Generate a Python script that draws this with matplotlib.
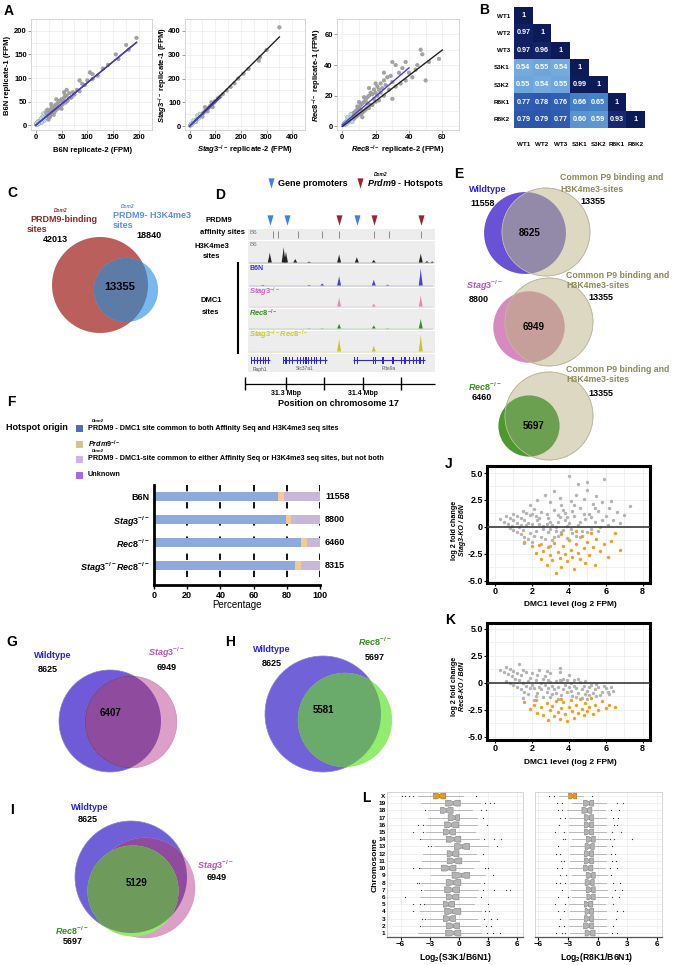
import numpy as np
import matplotlib.pyplot as plt
from matplotlib.patches import Circle, Rectangle
from matplotlib.colors import LinearSegmentedColormap

plt.rcParams['font.family'] = ['Liberation Sans', 'DejaVu Sans']
plt.rcParams['font.weight'] = 'bold'
plt.rcParams['mathtext.fontset'] = 'custom'
plt.rcParams['mathtext.rm'] = 'Liberation Sans:bold'
plt.rcParams['mathtext.it'] = 'Liberation Sans:italic:bold'
plt.rcParams['mathtext.bf'] = 'Liberation Sans:bold'

# ---------------- data ----------------
# A: replicate scatter, (replicate-2, replicate-1) in FPM
b6n_pts = [(1,2),(2,1),(3,4),(4,3),(5,6),(6,4),(7,8),(8,6),(9,10),(10,7),(11,12),(12,9),(14,15),(15,11),
           (16,18),(18,14),(19,21),(20,16),(22,24),(24,19),(25,28),(27,22),(28,32),(30,25),(32,34),(33,28),
           (35,38),(37,30),(38,43),(40,33),(42,46),(44,36),(45,50),(48,40),(50,55),(52,44),(55,58),(58,48),
           (60,62),(62,52),(65,68),(68,58),(72,70),(75,65),(80,75),(85,72),(90,88),(95,85),(100,95),(105,112),
           (110,98),(120,105),(130,120),(140,128),(155,150),(160,140),(175,170),(180,160),(195,185),(15,25),
           (20,30),(30,45),(40,55),(55,70),(25,12),(35,22),(50,35),(60,75),(3,1),(1,4),(6,9),(9,5),(13,18),
           (17,10),(23,33),(28,18),(45,38),(70,60),(85,95),(110,108),(4,7),(7,4),(10,14),(12,6),(21,26),
           (26,20),(31,38),(36,28),(41,40),(47,52),(53,50),(57,64)]
stag3_pts = [(2,2),(4,5),(6,6),(8,9),(10,11),(12,12),(15,16),(18,19),(20,22),(24,25),(28,30),(32,33),(35,38),
             (40,42),(45,47),(50,53),(55,57),(60,64),(65,68),(70,74),(75,78),(80,85),(88,92),(95,100),(100,106),
             (110,118),(120,125),(130,135),(145,150),(160,165),(175,180),(190,200),(210,220),(230,240),(270,275),
             (275,290),(300,320),(350,415),(30,45),(60,80),(90,80),(5,10),(15,25),(25,18),(40,52),(50,40),
             (70,62),(85,100),(3,3),(9,7),(14,13),(22,20),(36,33)]
rec8_pts = [(0.5,1),(1,2),(1.5,1),(2,3),(2,1.5),(3,4),(3,2),(4,5),(4,3),(5,6),(5,3.5),(6,8),(6,5),(7,9),(7,5),
            (8,10),(8,6),(9,11),(9,7),(10,12),(10,8),(11,14),(11,8),(12,15),(12,9),(13,16),(13,10),(14,17),
            (14,11),(15,19),(15,12),(16,20),(16,12),(17,22),(18,21),(18,14),(19,24),(20,22),(20,16),(21,26),
            (22,24),(22,17),(23,28),(24,25),(25,30),(25,20),(26,27),(27,32),(28,24),(29,33),(30,29),(30,42),
            (32,40),(32,26),(34,35),(35,28),(36,38),(38,30),(38,42),(40,35),(42,32),(44,37),(45,40),(47,50),
            (48,47),(50,30),(52,42),(58,44),(30,18),(20,28),(10,16),(25,35),(3,6),(6,3),(12,6),(16,25),
            (1,1),(2,2.5),(4,4),(5,8),(7,7),(9,13),(11,11),(13,19),(15,15),(17,14),(19,18),(21,20),(23,22)]
# fitted lines: (slope, intercept, x_start, x_end)
b6n_black_fit, b6n_blue_fit = (0.9, 0, 0, 195), (0.9, 0, 0, 195)
stag3_black_fit, stag3_blue_fit = (1.07, 0, 0, 350), (1.0, 0, 0, 120)
rec8_black_fit, rec8_blue_fit = (0.83, 0, 0, 60), (0.93, 1, 0, 40)

# B: Spearman R^2 (lower triangle)
hm_labels = ['WT1', 'WT2', 'WT3', 'S3K1', 'S3K2', 'R8K1', 'R8K2']
hm_rows = [[1], [0.97, 1], [0.97, 0.96, 1], [0.54, 0.55, 0.54, 1], [0.55, 0.54, 0.55, 0.99, 1],
           [0.77, 0.78, 0.76, 0.66, 0.65, 1], [0.79, 0.79, 0.77, 0.60, 0.59, 0.93, 1]]

# C/E/G/H/I: venn set sizes
c_binding, c_h3k4, c_common = 42013, 18840, 13355
e_sets = [('Wildtype', 11558, 8625), ('Stag3', 8800, 6949), ('Rec8', 6460, 5697)]
wt_n, stag3_n, rec8_n = 8625, 6949, 5697
g_overlap, h_overlap, i_overlap = 6407, 5581, 5129

# D: genome browser, chr17 (Mbp)
promoters = [31.279, 31.301, 31.392]
hotspots = [31.369, 31.414, 31.475]
affinity_sites = [31.283, 31.290, 31.316, 31.347, 31.369, 31.414, 31.434, 31.475]
h3k4_pos = [31.279, 31.297, 31.300, 31.312, 31.330, 31.369, 31.392, 31.414, 31.475, 31.483, 31.490]
h3k4_h = [0.55, 0.85, 0.6, 0.2, 0.05, 0.45, 0.3, 0.15, 0.5, 0.08, 0.06]
dmc1_pos = [31.270, 31.330, 31.347, 31.369, 31.414, 31.432, 31.475]
b6n_h = [0.04, 0.04, 0.12, 0.55, 0.35, 0.05, 1.0]
stag3_h = [0.0, 0.0, 0.0, 0.6, 0.2, 0.0, 0.75]
rec8_h = [0.0, 0.02, 0.02, 0.3, 0.2, 0.02, 0.6]
dko_h = [0.0, 0.0, 0.0, 0.75, 0.35, 0.0, 1.0]
genes = [('Raph1', 31.2545, 31.2790), ('Slc37a1', 31.2955, 31.3535), ('Pde9a', 31.3875, 31.4805)]
gene_exons = [[31.2555, 31.259, 31.2625, 31.2665, 31.2705, 31.274, 31.2775],
              [31.2965, 31.300, 31.3045, 31.3085, 31.3155, 31.319, 31.3225, 31.326, 31.3295, 31.333,
               31.3365, 31.340, 31.3445, 31.3515],
              [31.3885, 31.3925, 31.4135, 31.4165, 31.426, 31.439, 31.450, 31.4545, 31.460, 31.465,
               31.470, 31.474, 31.478]]

# F: hotspot origin (%)
f_groups = ['B6N', r'$\mathit{Stag3}^{-/-}$', r'$\mathit{Rec8}^{-/-}$', r'$\mathit{Stag3}^{-/-}\mathit{Rec8}^{-/-}$']
f_counts = ['11558', '8800', '6460', '8315']
pct_both = [74.7, 79.3, 88.3, 84.9]
pct_prdm9 = [3.6, 3.2, 3.6, 3.6]
pct_either = [21.7, 17.5, 8.1, 11.5]

# J/K: MA plots (DMC1 level, log2 fold change)
j_gray = [(0.3,0.7),(0.5,0.5),(0.7,0.3),(0.9,0.1),(0.6,1.0),(0.8,0.8),(1.0,0.6),(1.2,0.4),(1.4,0.2),(1.0,1.2),
          (1.2,1.0),(1.4,0.8),(1.6,0.6),(1.8,0.4),(1.2,-0.5),(1.4,-0.7),(1.6,-0.9),(1.8,-1.1),(1.0,-0.3),
          (0.8,-0.1),(1.5,1.5),(1.7,1.3),(1.9,1.1),(2.0,0.3),(2.2,-0.4),(2.4,0.8),(2.5,-0.9),(2.6,0.1),
          (2.8,1.2),(2.9,-0.5),(3.0,0.5),(3.1,-1.2),(3.2,1.6),(3.3,0.0),(3.4,-0.8),(3.5,0.9),(3.6,2.0),
          (3.7,-0.3),(3.8,1.3),(3.9,-1.0),(4.0,0.4),(4.1,2.4),(4.2,-0.6),(4.3,1.0),(4.4,3.0),(4.5,0.2),
          (4.6,1.8),(4.7,-0.4),(4.8,2.6),(4.9,0.7),(5.0,3.4),(5.1,1.2),(5.2,-0.2),(5.3,2.1),(5.4,0.5),
          (5.5,2.9),(5.6,1.5),(5.7,0.0),(5.8,2.3),(6.0,1.0),(6.2,1.8),(6.4,0.6),(6.6,1.4),(7.0,1.1),
          (7.3,1.9),(4.0,4.7),(5.9,4.4),(3.2,3.3),(2.3,2.5),(2.7,3.0),(1.9,2.0),(2.1,1.7),(3.0,2.3),
          (3.5,2.7),(4.5,4.0),(5.0,4.2),(2.5,-1.6),(3.0,-1.8),(2.0,-1.4),(1.6,-1.5),(2.2,1.0),(2.6,-0.2),
          (3.3,-0.4),(3.8,0.6),(4.2,1.5),(4.6,-0.9),(2.4,0.3),(2.9,0.8),(3.4,1.1),(3.9,0.1),
          (2.1,-0.8),(2.3,0.6),(2.5,1.4),(2.7,-1.1),(2.8,0.3),(3.1,0.2),(3.2,-0.9),(3.4,0.5),(3.6,-0.5),
          (3.7,1.6),(3.9,0.9),(4.1,-0.2),(4.3,2.0),(4.4,-0.8),(4.6,0.5),(4.8,1.2),(5.0,-0.5),(5.2,0.9),
          (5.4,1.8),(5.6,-0.4),(5.8,0.6),(6.1,0.2),(6.3,2.4),(6.8,0.4),(1.3,0.0),(1.5,-0.3),(1.7,0.2),
          (1.9,-0.6),(2.0,1.2),(3.0,-0.2)]
j_orange = [(1.6,-1.4),(2.0,-1.8),(2.2,-2.4),(2.4,-1.7),(2.5,-3.0),(2.6,-2.2),(2.8,-3.5),(2.9,-1.9),(3.0,-2.6),
            (3.1,-3.1),(3.2,-1.5),(3.3,-4.3),(3.4,-2.3),(3.5,-2.9),(3.6,-3.7),(3.7,-1.8),(3.8,-2.5),(3.9,-3.2),
            (4.0,-1.2),(4.1,-2.1),(4.2,-2.8),(4.3,-3.9),(4.4,-1.6),(4.5,-2.4),(4.6,-3.0),(4.7,-0.8),(4.8,-2.0),
            (4.9,-3.3),(5.0,-1.4),(5.1,-2.6),(5.2,-0.6),(5.3,-1.9),(5.4,-3.5),(5.5,-1.1),(5.7,-2.2),(5.9,-1.6),
            (6.1,-2.8),(6.3,-1.3),(6.5,-0.6),(6.8,-2.1),(4.4,-0.4),(3.6,-0.7)]
k_gray = [(0.3,1.2),(0.5,1.0),(0.7,0.8),(0.9,0.6),(1.1,0.4),(0.6,1.5),(0.8,1.3),(1.0,1.1),(1.2,0.9),(1.4,0.7),
          (1.3,1.8),(1.5,1.2),(1.7,1.0),(1.0,-0.2),(1.2,-0.4),(1.4,-0.6),(1.6,-0.8),(1.8,-1.0),(0.6,0.2),
          (0.8,0.0),(1.5,-1.4),(1.9,0.5),(2.0,-0.2),(2.2,0.3),(2.3,-0.9),(2.5,0.0),(2.6,-1.3),(2.7,0.6),
          (2.9,-0.5),(3.0,0.9),(3.1,-1.0),(3.3,0.2),(3.4,-0.4),(3.5,1.0),(3.6,-1.1),(3.7,0.4),(3.8,-0.2),
          (3.9,-0.8),(4.0,0.7),(4.1,0.0),(4.2,-1.2),(4.3,0.3),(4.4,-0.5),(4.5,-0.9),(4.6,0.1),(4.7,-1.4),
          (4.8,-0.3),(4.9,0.2),(5.0,-0.7),(5.1,-1.1),(5.2,-0.2),(5.4,-0.6),(5.5,-1.2),(5.6,-0.4),(5.8,-0.8),
          (6.0,-0.5),(6.2,-1.0),(6.4,-0.7),(3.5,1.4),(2.4,1.2),(2.8,1.1),(2.1,-1.6),(2.0,0.9),(2.4,-0.4),
          (2.8,-0.8),(3.2,-0.6),(3.6,0.2),(4.0,-0.4),(2.6,0.4),(3.0,0.1),(3.4,-1.5),(1.8,0.2),
          (2.1,-0.5),(2.3,0.7),(2.5,-0.6),(2.7,-0.2),(2.9,0.3),(3.1,-0.3),(3.3,-0.9),(3.5,0.3),(3.7,-0.6),
          (3.9,0.3),(4.1,-0.7),(4.3,-0.3),(4.5,0.4),(4.7,-0.6),(4.9,-1.0),(5.1,-0.4),(5.3,-0.9),(5.5,-0.1),
          (5.7,-1.1),(5.9,-0.3),(6.1,-0.8),(6.3,-0.4),(1.3,0.3),(1.5,0.0),(1.7,-0.3),(1.9,-0.5),(2.2,-1.2),
          (3.0,-1.3),(4.4,-1.3),(5.0,-1.5)]
k_orange = [(1.6,-1.8),(1.9,-2.4),(2.1,-2.0),(2.3,-2.8),(2.5,-2.2),(2.6,-3.0),(2.8,-1.9),(2.9,-3.4),(3.0,-2.5),
            (3.1,-2.1),(3.2,-3.1),(3.3,-1.7),(3.4,-2.7),(3.5,-3.3),(3.6,-2.3),(3.7,-1.8),(3.8,-2.9),(3.9,-3.5),
            (4.0,-2.2),(4.1,-1.6),(4.2,-2.6),(4.3,-3.2),(4.4,-2.0),(4.5,-2.8),(4.6,-1.5),(4.7,-2.4),(4.8,-3.0),
            (4.9,-1.9),(5.0,-2.6),(5.1,-2.2),(5.2,-1.4),(5.3,-2.9),(5.4,-2.0),(5.6,-2.5),(5.8,-1.7),(6.0,-2.3),
            (6.2,-2.0),(6.5,-2.2),(2.2,-1.6),(3.6,-1.5)]

# L: per-chromosome log2 ratios (boxplot stats), chromosomes 1..19, X
chromosomes = ['1','2','3','4','5','6','7','8','9','10','11','12','13','14','15','16','17','18','19','X']
s3_med = [-0.55,-0.6,-1.0,-0.7,-1.1,-0.7,-0.7,-0.6,0.25,-1.0,-0.5,-0.7,0.3,-0.55,-1.0,-0.8,-0.45,-1.3,-0.6,-2.0]
s3_q1 = [-1.36,-1.3,-1.6,-1.46,-1.6,-1.3,-1.46,-1.3,-0.7,-1.8,-1.2,-1.2,-0.45,-1.3,-1.6,-1.46,-1.1,-1.9,-1.36,-2.6]
s3_q3 = [0.2,0.07,-0.35,0.2,-0.45,0.0,0.07,0.2,1.1,-0.3,0.3,0.0,1.1,0.2,-0.35,0.0,0.07,-0.6,0.14,-1.36]
s3_lo = [-4.2,-3.8,-3.3,-4.0,-3.5,-4.0,-3.6,-3.9,-2.9,-4.0,-3.8,-3.7,-2.6,-3.9,-3.4,-3.4,-3.2,-3.2,-3.9,-4.2]
s3_hi = [2.3,2.2,1.9,2.3,1.6,1.8,2.0,2.2,2.7,1.5,2.1,1.8,3.0,2.1,1.7,1.9,1.9,1.3,2.2,0.4]
s3_fliers = [[2.9,3.5,4.2],[-4.0,2.8,3.3],[-3.8,-3.5,2.6,3.3,3.9],[-4.7,2.7,3.1],[-4.7,-4.0,-3.6,3.0],
             [-5.5,2.3],[-3.9,2.5,3.6,4.8,5.3],[-4.3,-4.1,2.6],[3.5],[-4.7,-4.1,2.7,3.0],[],[2.5],
             [-3.2,-2.9,3.9],[-4.0,2.6,3.6,4.3],[-4.7,-3.7],[-4.2,-3.7,2.9],[2.5],[-3.5,2.3,2.8],
             [2.7,3.2,3.6],[-5.9,-5.5,-5.1,-4.7,1.8]]
r8_med = [-0.8,-0.9,-0.9,-0.9,-1.0,-0.7,-0.7,-0.8,-0.7,-0.95,-0.9,-0.9,-0.8,-0.7,-0.9,-0.9,-0.9,-1.05,-0.9,-2.5]
r8_q1 = [-1.25,-1.4,-1.33,-1.25,-1.33,-1.07,-1.13,-1.25,-1.13,-1.4,-1.33,-1.33,-1.25,-1.13,-1.33,-1.33,-1.33,-1.57,-1.4,-2.9]
r8_q3 = [-0.25,-0.4,-0.4,-0.4,-0.47,-0.23,-0.23,-0.33,-0.23,-0.47,-0.4,-0.4,-0.33,-0.23,-0.4,-0.4,-0.4,-0.57,-0.4,-2.1]
r8_lo = [-2.8,-2.9,-2.9,-2.8,-2.9,-2.6,-2.7,-2.8,-2.6,-2.9,-2.8,-2.8,-2.8,-2.6,-2.9,-2.9,-2.9,-3.1,-2.6,-3.9]
r8_hi = [1.0,0.9,0.9,0.9,0.8,1.1,1.0,0.9,1.0,0.8,0.9,0.9,0.9,1.1,0.9,0.9,0.9,0.8,0.9,-1.5]
r8_fliers = [[-4.2,-3.6,-3.3,1.5,2.0],[-3.9,-3.4,1.6],[-3.8,1.9],[-4.0,-3.4,2.0,2.6],[-4.3,-3.3,1.6],
             [-4.0,-3.0,1.5,2.2],[-3.6,1.8,2.5],[-4.2,-3.8,-3.3,1.6,2.3],[-3.8,-3.2,1.4],[-4.1,-3.6,1.3,2.0],
             [-3.7,-3.4,1.5,1.9],[-4.2,-3.8,1.4,1.8],[-4.0,1.5],[-3.5,-3.3,1.3,1.7,3.5],[-4.3,-3.4,1.5,2.4],
             [-3.9,1.7,2.0],[-3.8,-3.3,1.6,2.1],[-4.0,-3.6,1.4,2.2],[-4.1,-3.6,2.0,2.6],[-4.9,-4.4,-0.6]]

# ---------------- figure ----------------
W, H = 676, 965
fig = plt.figure(figsize=(W / 100, H / 100), dpi=100, facecolor='white')


def pax(x0, y0, x1, y1):
    return fig.add_axes([x0 / W, 1 - y1 / H, (x1 - x0) / W, (y1 - y0) / H])


ov = pax(0, 0, W, H)
ov.set_xlim(0, W)
ov.set_ylim(H, 0)
ov.axis('off')


def txt(x, y, s, size=6.5, color='black', ha='center', **kw):
    ov.text(x, y, s, fontsize=size, color=color, ha=ha, va='center', fontweight='bold', **kw)


def circ(cx, cy, r, fc, ec='none', lw=0.5, clip=None):
    c = Circle((cx, cy), r, facecolor=fc, edgecolor=ec, lw=lw)
    ov.add_patch(c)
    if clip is not None:
        c.set_clip_path(clip)
    return c


for letter, x, y in [('A', 9, 11), ('B', 484, 10), ('C', 12, 193), ('D', 220, 195), ('E', 459, 174),
                     ('F', 11, 402), ('G', 12, 642), ('H', 230, 642), ('I', 12, 810), ('J', 449, 464),
                     ('K', 450, 620), ('L', 366, 798)]:
    txt(x, y, letter, size=10)

# ---- A
def rep_panel(ax, pts, black_fit, blue_fit, xlim, ylim, ticks, light_cut):
    x = np.array([p[0] for p in pts], float)
    y = np.array([p[1] for p in pts], float)
    ax.set_xlim(xlim)
    ax.set_ylim(ylim)
    ax.set_xticks(ticks)
    ax.set_yticks(ticks)
    step = ticks[1] - ticks[0]
    ax.set_xticks([t + step / 2 for t in ticks], minor=True)
    ax.set_yticks([t + step / 2 for t in ticks], minor=True)
    ax.grid(True, which='both', color='#ececec', lw=0.5)
    ax.set_axisbelow(True)
    col = np.where(x <= light_cut, '#b6dcef', '#a3a3a3')
    ax.scatter(x, y, s=7, c=col, edgecolors='#8d8d8d', linewidths=0.25, zorder=2)
    for fit, color in ((black_fit, '#222222'), (blue_fit, '#4a3ad8')):
        slope, icpt, x0, x1 = fit
        xs = np.array([x0, x1])
        ax.plot(xs, icpt + slope * xs, color=color, lw=1.0, zorder=3)
    for s in ax.spines.values():
        s.set_color('#cfcfcf')
        s.set_linewidth(0.6)
    ax.tick_params(which='both', labelsize=5.5, length=2, width=0.5, color='#777777', pad=1)
    ax.tick_params(which='minor', length=0)


rep_panel(pax(31, 19, 152, 130), b6n_pts, b6n_black_fit, b6n_blue_fit, (-9, 207), (-10, 210),
          [0, 50, 100, 150, 200], 20)
rep_panel(pax(185, 19, 305, 130), stag3_pts, stag3_black_fit, stag3_blue_fit, (-18, 411), (-16, 432),
          [0, 100, 200, 300, 400], 40)
rep_panel(pax(337, 19, 459, 130), rec8_pts, rec8_black_fit, rec8_blue_fit, (-3.2, 61.6), (-2.3, 62.3),
          [0, 20, 40, 60], 6)
txt(93, 150, 'B6N replicate-2 (FPM)', size=5.5)
txt(245, 150, r'$\mathit{Stag3}^{-/-}$ replicate-2 (FPM)', size=5.5)
txt(398, 150, r'$\mathit{Rec8}^{-/-}$ replicate-2 (FPM)', size=5.5)
txt(8, 75, 'B6N replicate-1 (FPM)', size=5.5, rotation=90)
txt(163, 75, r'$\mathit{Stag3}^{-/-}$ replicate-1 (FPM)', size=5.5, rotation=90)
txt(317, 75, r'$\mathit{Rec8}^{-/-}$ replicate-1 (FPM)', size=5.5, rotation=90)

# ---- B
axb = pax(514, 7, 645, 128)
n = len(hm_labels)
M = np.full((n, n), np.nan)
for i, row in enumerate(hm_rows):
    M[i, :len(row)] = row
cmap = LinearSegmentedColormap.from_list('sp', [(0, '#8cc0ea'), (0.1, '#6ea6dc'), (0.3, '#4682c8'),
                                                (0.55, '#2f5bb0'), (0.88, '#16286e'), (1, '#0c1a58')])
axb.imshow(np.ma.masked_invalid(M), cmap=cmap, vmin=0.5, vmax=1, aspect='auto')
for i, row in enumerate(hm_rows):
    for j, v in enumerate(row):
        axb.text(j, i, f'{v:g}' if v == 1 else f'{v:.2f}', ha='center', va='center', color='white',
                 fontsize=5.2, fontweight='bold')
axb.set_xticks(range(n), hm_labels)
axb.set_yticks(range(n), hm_labels)
axb.tick_params(length=0, labelsize=4.5, pad=10)
axb.tick_params(axis='y', pad=3)
for s in axb.spines.values():
    s.set_visible(False)
txt(609, 50, 'Spearman R', size=6, style='italic')
txt(641, 42, '2', size=4.5)

# ---- C
r_c = 48
k_c = r_c / np.sqrt(c_binding)
red = circ(100, 285, r_c, '#bb5f5c')
blue = circ(126, 290, k_c * np.sqrt(c_h3k4), '#79b8ee')
circ(126, 290, k_c * np.sqrt(c_h3k4), '#5c7ba6', clip=red)
txt(30, 220, 'PRDM9-binding', size=6.5, color='#8c2a28', ha='left')
txt(61, 211, 'Dom2', size=3.5, color='#8c2a28', style='italic')
txt(27, 230, 'sites', size=6.5, color='#8c2a28', ha='left')
txt(55, 240, f'{c_binding}', size=6.5)
txt(113, 215, 'PRDM9- H3K4me3', size=6.5, color='#5b8de6', ha='left')
txt(128, 206, 'Dom2', size=3.5, color='#5b8de6', style='italic')
txt(113, 225, 'sites', size=6.5, color='#5b8de6', ha='left')
txt(149, 235, f'{c_h3k4}', size=6.5)
txt(120, 287, f'{c_common}', size=8)

# ---- D
xl_d = (31.2494, 31.4935)
axd = pax(247, 210, 435, 372)
axd.set_xlim(xl_d)
axd.set_ylim(372, 210)
axd.axis('off')
bands = [(228, 240), (240, 264), (264, 287), (287, 308), (308, 330), (330, 353), (353, 372)]
for top, bot in bands:
    axd.add_patch(Rectangle((xl_d[0], top), xl_d[1] - xl_d[0], bot - top, facecolor='#ededed',
                            edgecolor='white', lw=0.8))
tri = [(-1, 1.7), (1, 1.7), (0, -1.7)]
axd.scatter(promoters, [220] * len(promoters), marker=tri, s=55, color='#3d82e6', lw=0)
axd.scatter(hotspots, [220] * len(hotspots), marker=tri, s=55, color='#98262a', lw=0)
axd.vlines(affinity_sites, 231, 238, color='#8a8a8a', lw=0.7)


def peaks(pos, hts, band, color):
    top, bot = band
    base = bot - 1.5
    axd.hlines(base, xl_d[0] + 0.003, xl_d[1] - 0.003, color=color, lw=0.3, alpha=0.6)
    for p, h in zip(pos, hts):
        if h > 0:
            axd.fill([p - 0.0026, p - 0.0009, p, p + 0.0009, p + 0.0026],
                     [base, base - h * (bot - top - 6) * 0.6, base - h * (bot - top - 6),
                      base - h * (bot - top - 6) * 0.6, base], color=color, lw=0)


peaks(h3k4_pos, h3k4_h, bands[1], '#222222')
peaks(dmc1_pos, b6n_h, bands[2], '#4a3fd8')
peaks(dmc1_pos, stag3_h, bands[3], '#e08ab8')
peaks(dmc1_pos, rec8_h, bands[4], '#3a8a1e')
peaks(dmc1_pos, dko_h, bands[5], '#c8c81e')
for (name, g0, g1), exons in zip(genes, gene_exons):
    axd.hlines(360, g0, g1, color='#2a2ad0', lw=0.8)
    for e in exons:
        axd.add_patch(Rectangle((e - 0.0007, 357), 0.0014, 7, color='#2a2ad0', lw=0))
    axd.text((g0 + g1) / 2, 369, name, fontsize=3.5, color='#555555', ha='center', va='center',
             fontweight='normal')
for lab, y in [('B6', 232), ('B6', 245)]:
    axd.text(xl_d[0] + 0.003, y, lab, fontsize=4.5, color='#777777', va='center', fontweight='normal')
axd.text(xl_d[0] + 0.003, 269, 'B6N', fontsize=5, color='#3b33cc', va='center')
axd.text(xl_d[0] + 0.003, 292, r'$\mathit{Stag3}^{-/-}$', fontsize=5.5, color='#cc66bb', va='center')
axd.text(xl_d[0] + 0.003, 313, r'$\mathit{Rec8}^{-/-}$', fontsize=5.5, color='#3f8f22', va='center')
axd.text(xl_d[0] + 0.003, 335, r'$\mathit{Stag3}^{-/-}\mathit{Rec8}^{-/-}$', fontsize=5.5,
         color='#cccc22', va='center')
ov.scatter([271], [183], marker=tri, s=55, color='#3d82e6', lw=0)
ov.scatter([360], [183], marker=tri, s=55, color='#98262a', lw=0)
txt(278, 183, 'Gene promoters', size=6.5, ha='left')
txt(367, 184, r'$\mathit{Prdm9}$ - Hotspots', size=6.5, ha='left')
txt(381, 175, 'Dom2', size=3.5, style='italic')
txt(219, 221, 'PRDM9', size=5.5)
txt(245, 232, 'affinity sites', size=5.5, ha='right')
txt(212, 246, 'H3K4me3', size=5.5)
txt(212, 256, 'sites', size=5.5)
txt(211, 301, 'DMC1', size=5.5)
txt(211, 313, 'sites', size=5.5)
ov.plot([238, 238], [263, 353], color='black', lw=1.5)

axs = pax(243, 376, 437, 398)
axs.set_xlim(31.2442, 31.4961)
axs.set_ylim(1, 0)
axs.axis('off')
axs.hlines(0.35, 31.2468, 31.4935, color='black', lw=0.9)
axs.vlines([31.2468, 31.30, 31.35, 31.40, 31.4494], 0.05, 0.65, color='black', lw=1.0)
for p, lab in [(31.30, '31.3 Mbp'), (31.40, '31.4 Mbp')]:
    axs.text(p, 0.8, lab, fontsize=5, ha='center', va='center')
txt(338, 404, 'Position on chromosome 17', size=6.5)

# ---- E
beige, beige_edge, olive = '#dcd8c2', '#bdb99e', '#8c8a55'
e_style = [('#6a52d6', '#938aa9', '#2a22d0', 'Wildtype'),
           ('#d88ac0', '#c79f9a', '#b455b8', r'$\mathit{Stag3}^{-/-}$'),
           ('#4c9a2e', '#6aa050', '#3a8a20', r'$\mathit{Rec8}^{-/-}$')]
e_geom = [(546, 232, 525, 233), (549, 322, 529, 327), (549, 416, 529, 426)]
e_text = [(488, 189, 483, 203, 560, 178, 189, 593, 202),
          (484, 286, 479, 300, 566, 275, 286, 601, 298),
          (485, 387, 482, 398, 566, 369, 380, 601, 393)]
r_e = 44
for (name, total, ov_n), (fc, oc, tc, lab), (bx, by, cx, cy), t in zip(e_sets, e_style, e_geom, e_text):
    r_set = r_e * np.sqrt(total / c_common)
    circ(cx, cy, r_set, fc)
    bc = circ(bx, by, r_e, beige, ec=beige_edge)
    circ(cx, cy, r_set, oc, clip=bc)
    circ(bx, by, r_e, 'none', ec=beige_edge)
    txt(t[0], t[1], lab, size=6.5, color=tc)
    txt(t[2], t[3], f'{total}', size=6.5)
    txt(t[4], t[5], 'Common P9 binding and', size=6.3, color=olive, ha='left')
    txt(t[4], t[6], 'H3K4me3-sites', size=6.3, color=olive, ha='left')
    txt(t[7], t[8], f'{c_common}', size=6.5)
    txt(cx + 5, cy, f'{ov_n}', size=7)

# ---- F
txt(6, 428, 'Hotspot origin', size=6.5, ha='left')
leg = [('#4a6fb4', 428, 'PRDM9 - DMC1 site common to both Affinity Seq and H3K4me3 seq sites', True),
       ('#d8c28e', 444, r'$\mathit{Prdm9}^{-/-}$', False),
       ('#cdb6ef', 459, 'PRDM9 - DMC1-site common to either Affinity Seq or H3K4me3 seq sites, but not both', True),
       ('#a66ae8', 475, 'Unknown', False)]
for col, y, lab, dom in leg:
    ov.add_patch(Rectangle((76, y - 3.5), 7, 7, color=col, lw=0))
    txt(88, y, lab, size=5.2, ha='left')
    if dom:
        txt(98, y - 7.5, 'Dom2', size=3.2, style='italic')

axf = pax(154, 485, 320, 585)
rows = np.arange(len(f_groups))
axf.vlines([20, 40, 60, 80, 100], -0.5, 3.85, colors='black', linestyles=(0, (3.5, 6)), lw=1.3, zorder=0)
axf.barh(rows, pct_both, height=0.42, color='#8eaadc', zorder=2)
axf.barh(rows, pct_prdm9, left=pct_both, height=0.42, color='#f3c994', zorder=2)
left2 = [a + b for a, b in zip(pct_both, pct_prdm9)]
axf.barh(rows, pct_either, left=left2, height=0.42, color='#c7b8da', zorder=2)
for r, c in zip(rows, f_counts):
    axf.text(103, r, c, fontsize=6.5, va='center', ha='left', clip_on=False)
axf.set_xlim(0, 100)
axf.set_ylim(3.85, -0.5)
axf.set_yticks(rows, f_groups)
axf.set_xticks([0, 20, 40, 60, 80, 100])
axf.tick_params(axis='y', length=0, labelsize=6.5, pad=3)
axf.tick_params(axis='x', length=3, width=1, labelsize=6.5, pad=1)
for s in ('top', 'right'):
    axf.spines[s].set_visible(False)
axf.spines['left'].set_linewidth(2)
axf.spines['bottom'].set_linewidth(2)
axf.set_xlabel('Percentage', fontsize=7, labelpad=0)

# ---- G, H, I
pink, lime = '#dca0c8', '#92ec6e'
r_g = 51
pg = circ(110, 721, r_g, '#6f5bd8', ec='#8a80d0')
circ(131, 722, r_g * np.sqrt(stag3_n / wt_n), pink, ec='#c890b8')
circ(131, 722, r_g * np.sqrt(stag3_n / wt_n), '#8f4c9e', ec='#6a3a7a', clip=pg)
txt(53, 656, 'Wildtype', size=6.5, color='#2a22d0')
txt(48, 670, f'{wt_n}', size=6.5)
txt(166, 653, r'$\mathit{Stag3}^{-/-}$', size=6.5, color='#b455b8')
txt(167, 668, f'{stag3_n}', size=6.5)
txt(110, 713, f'{g_overlap}', size=7)

r_h = 58
ph = circ(323, 714, r_h, '#7262d8', ec='#8a80d0')
circ(345, 720, r_h * np.sqrt(rec8_n / wt_n), lime)
circ(345, 720, r_h * np.sqrt(rec8_n / wt_n), '#6aaa6a', clip=ph)
txt(272, 649, 'Wildtype', size=6.5, color='#2a22d0')
txt(272, 663, f'{wt_n}', size=6.5)
txt(375, 642, r'$\mathit{Rec8}^{-/-}$', size=6.5, color='#3a8a20')
txt(375, 657, f'{rec8_n}', size=6.5)
txt(323, 710, f'{h_overlap}', size=7)

r_i = 56
pi = circ(131, 877, r_i, '#7060d8', ec='#8a80d0')
circ(145, 888, r_i * np.sqrt(stag3_n / wt_n), pink)
circ(145, 888, r_i * np.sqrt(stag3_n / wt_n), '#8f4c9e', clip=pi)
circ(133, 891, r_i * np.sqrt(rec8_n / wt_n), lime)
circ(133, 891, r_i * np.sqrt(rec8_n / wt_n), '#6e9b5c', clip=pi)
txt(90, 807, 'Wildtype', size=6.5, color='#2a22d0')
txt(88, 819, f'{wt_n}', size=6.5)
txt(215, 866, r'$\mathit{Stag3}^{-/-}$', size=6.5, color='#b455b8')
txt(217, 877, f'{stag3_n}', size=6.5)
txt(72, 931, r'$\mathit{Rec8}^{-/-}$', size=6.5, color='#3a8a20')
txt(73, 942, f'{rec8_n}', size=6.5)
txt(137, 883, f'{i_overlap}', size=7)

# ---- J, K
def ma_panel(ax, gray, orange, ylim):
    ax.set_xlim(-0.43, 8.4)
    ax.set_ylim(ylim)
    ax.set_xticks([0, 2, 4, 6, 8])
    ax.set_yticks([-5, -2.5, 0, 2.5, 5], ['-5.0', '-2.5', '0', '2.5', '5.0'])
    ax.set_xticks([1, 3, 5, 7], minor=True)
    ax.set_yticks([-3.75, -1.25, 1.25, 3.75], minor=True)
    ax.grid(True, which='both', color='#ececec', lw=0.5)
    ax.set_axisbelow(True)
    ax.scatter([p[0] for p in gray], [p[1] for p in gray], s=6, color='#b4b4b4', lw=0, zorder=2)
    ax.scatter([p[0] for p in orange], [p[1] for p in orange], s=6, color='#f0a020', lw=0, zorder=2)
    ax.axhline(0, color='#3a3a3a', lw=1.2, zorder=3)
    for s in ax.spines.values():
        s.set_linewidth(2.2)
    ax.tick_params(which='both', labelsize=6.5, length=2, pad=1)
    ax.tick_params(which='minor', length=0)


ma_panel(pax(487, 466, 650, 583), j_gray, j_orange, (-5.2, 5.65))
ma_panel(pax(487, 623, 650, 740), k_gray, k_orange, (-5.28, 5.55))
for yc, lab in [(530, 'Stag3-KO / B6N'), (686, 'Rec8-KO / B6N')]:
    txt(454, yc, 'log 2 fold change', size=5.2, rotation=90)
    txt(463, yc, lab, size=5.0, rotation=90, style='italic')
txt(570, 605, 'DMC1 level (log 2 FPM)', size=6)
txt(570, 762, 'DMC1 level (log 2 FPM)', size=6)

# ---- L
def chrom_box(ax, med, q1, q3, lo, hi, fliers, xlim):
    stats = []
    for i in range(len(med)):
        half = 0.2 * (q3[i] - q1[i])
        stats.append(dict(med=med[i], q1=q1[i], q3=q3[i], whislo=lo[i], whishi=hi[i], fliers=fliers[i],
                          cilo=med[i] - half, cihi=med[i] + half))
    pos = np.arange(1, len(med) + 1)
    kw = dict(positions=pos, widths=0.8, shownotches=True, patch_artist=True,
              boxprops=dict(facecolor='#b4b4b4', edgecolor='#8a8a8a', lw=0.5),
              medianprops=dict(color='#8a8a8a', lw=0.5),
              whiskerprops=dict(color='#b0b0b0', lw=0.6), capprops=dict(lw=0),
              flierprops=dict(marker='o', ms=0.9, mfc='#333333', mec='none'))
    try:
        bp = ax.bxp(stats, orientation='horizontal', **kw)
    except TypeError:
        bp = ax.bxp(stats, vert=False, **kw)
    bp['boxes'][-1].set_facecolor('#e89a1e')
    bp['boxes'][-1].set_edgecolor('#b87010')
    ax.set_xlim(xlim)
    ax.set_ylim(0.45, len(med) + 0.55)
    ax.set_xticks([-6, -3, 0, 3, 6])
    ax.set_yticks(pos)
    ax.grid(True, color='#ececec', lw=0.5)
    ax.set_axisbelow(True)
    for s in ax.spines.values():
        s.set_color('#cfcfcf')
        s.set_linewidth(0.6)
    ax.spines['bottom'].set_color('#555555')
    ax.spines['bottom'].set_linewidth(0.9)
    ax.tick_params(labelsize=5.8, length=2, pad=1)


axl1 = pax(387, 792, 523, 937)
chrom_box(axl1, s3_med, s3_q1, s3_q3, s3_lo, s3_hi, s3_fliers, (-7.4, 6.6))
axl1.set_yticklabels(chromosomes, fontsize=4.6)
axl1.tick_params(axis='y', length=0, pad=1)
axl2 = pax(535, 792, 662, 937)
chrom_box(axl2, r8_med, r8_q1, r8_q3, r8_lo, r8_hi, r8_fliers, (-6.3, 6.5))
axl2.set_yticklabels([])
axl2.tick_params(axis='y', length=0)
txt(375, 865, 'Chromosome', size=6, rotation=90)
txt(455, 957, r'Log$_2$(S3K1/B6N1)', size=6.2)
txt(597, 957, r'Log$_2$(R8K1/B6N1)', size=6.2)

fig.savefig('out.png', dpi=100)
